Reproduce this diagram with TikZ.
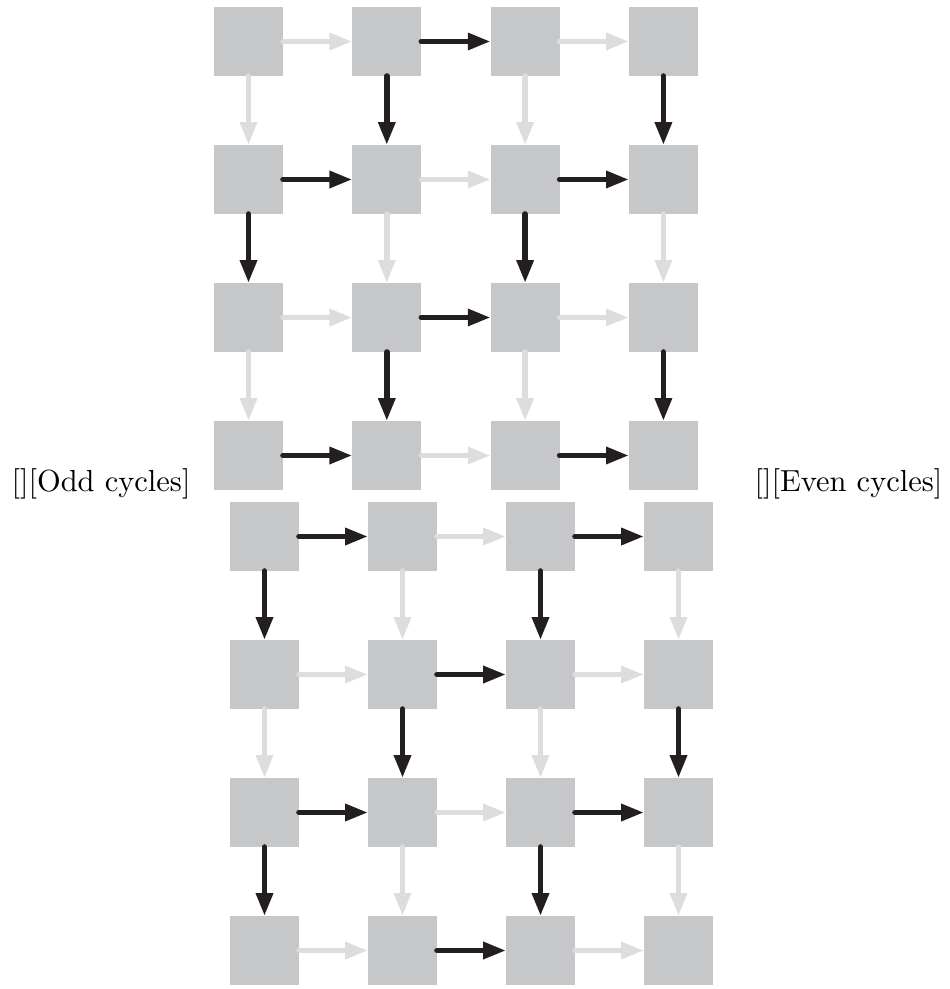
\documentclass[tikz,border=0pt]{standalone}
\usetikzlibrary{arrows.meta}
\definecolor{sqgray}{HTML}{C6C7C9}
\definecolor{lightarr}{HTML}{DCDDDF}
\definecolor{darkarr}{HTML}{231F20}
\begin{document}
\begin{tikzpicture}[x=0.328pt,y=-0.328pt,
  sq/.style={fill=sqgray,draw=none,minimum size=22.6pt,inner sep=0pt,outer sep=0pt},
  arr/.style={line width=1.8pt,line cap=round,-{Triangle[length=7.5pt,width=5.3pt]}},
  darkA/.style={arr,draw=darkarr,fill=darkarr},
  lightA/.style={arr,draw=lightarr,fill=lightarr},
  lbl/.style={inner sep=0pt,font=\normalsize}]
\useasboundingbox (0,0) rectangle (949,989);
% top grid
\foreach \r in {0,...,3}{
  \foreach \c in {0,...,3}{
    \node[sq] (T-\r-\c) at ({248.5+138.3*\c},{41.5+138*\r}) {};
  }
}
% bottom grid
\foreach \r in {0,...,3}{
  \foreach \c in {0,...,3}{
    \node[sq] (B-\r-\c) at ({264.5+138*\c},{536.5+138*\r}) {};
  }
}
% top grid arrows: dark when r+c odd
\foreach \r in {0,...,3}{
  \foreach \c in {0,1,2}{
    \pgfmathtruncatemacro{\n}{\c+1}
    \pgfmathtruncatemacro{\p}{mod(\r+\c,2)}
    \ifnum\p=1 \draw[darkA] (T-\r-\c.east) -- (T-\r-\n.west);
    \else \draw[lightA] (T-\r-\c.east) -- (T-\r-\n.west); \fi
  }
}
\foreach \r in {0,1,2}{
  \foreach \c in {0,...,3}{
    \pgfmathtruncatemacro{\m}{\r+1}
    \pgfmathtruncatemacro{\p}{mod(\r+\c,2)}
    \ifnum\p=1 \draw[darkA] (T-\r-\c.south) -- (T-\m-\c.north);
    \else \draw[lightA] (T-\r-\c.south) -- (T-\m-\c.north); \fi
  }
}
% bottom grid arrows: dark when r+c even
\foreach \r in {0,...,3}{
  \foreach \c in {0,1,2}{
    \pgfmathtruncatemacro{\n}{\c+1}
    \pgfmathtruncatemacro{\p}{mod(\r+\c,2)}
    \ifnum\p=0 \draw[darkA] (B-\r-\c.east) -- (B-\r-\n.west);
    \else \draw[lightA] (B-\r-\c.east) -- (B-\r-\n.west); \fi
  }
}
\foreach \r in {0,1,2}{
  \foreach \c in {0,...,3}{
    \pgfmathtruncatemacro{\m}{\r+1}
    \pgfmathtruncatemacro{\p}{mod(\r+\c,2)}
    \ifnum\p=0 \draw[darkA] (B-\r-\c.south) -- (B-\m-\c.north);
    \else \draw[lightA] (B-\r-\c.south) -- (B-\m-\c.north); \fi
  }
}
% labels
\node[lbl,anchor=base west] (odd) at (11,491) {[][Odd cycles]};
\node[lbl,anchor=base east] (even) at (943,491) {[][Even cycles]};
\end{tikzpicture}
\end{document}
